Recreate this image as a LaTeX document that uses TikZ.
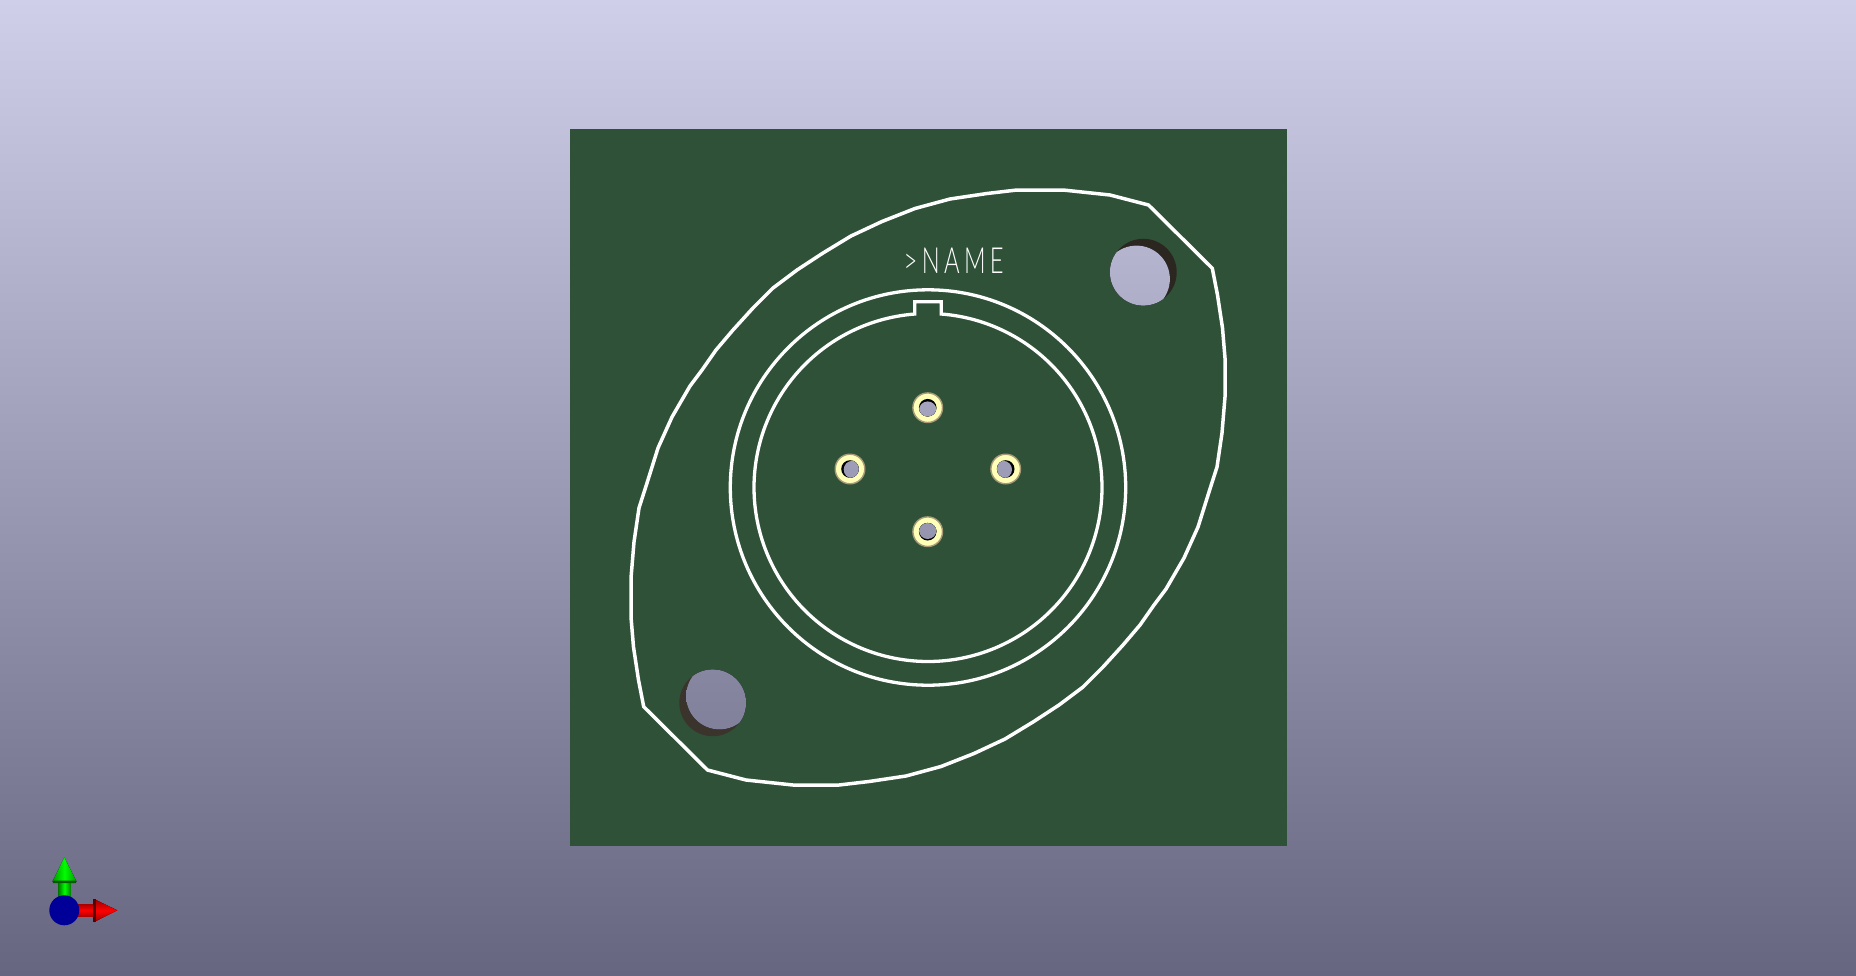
\documentclass[tikz,border=0pt]{standalone}
\usepackage{fontspec}
\newfontfamily\silkfont{Lato Light}[FakeStretch=0.66,LetterSpace=12]
\definecolor{bgtop}{HTML}{CFCFEA}
\definecolor{bgbot}{HTML}{666680}
\definecolor{board}{HTML}{2F5138}
\definecolor{padgold}{HTML}{FFFFB8}
\definecolor{padrim}{HTML}{A89A78}
\definecolor{walltop}{HTML}{2B2620}
\definecolor{wallbot}{HTML}{3A342C}
\tikzset{
  silk/.style={draw=white,line width=3.5pt,line join=miter},
  seethrough/.style={top color=bgtop,bottom color=bgbot},
  padring/.style={fill=padgold,draw=padrim,line width=1.4pt},
}
% near hole centre x,y ; far hole offset dx,dy ; radius r ; wall colour
\newcommand{\holeat}[6]{%
  \fill[#6] (#1,#2) circle[radius=#5];
  \begin{scope}
    \clip (#1,#2) circle[radius=#5];
    \clip ({#1+#3},{#2+#4}) circle[radius=#5];
    \fill[seethrough] (0,0) rectangle (1856,975);
  \end{scope}}
\newcommand{\padat}[4]{%
  \draw[padring] (#1,#2) circle[radius=14.8];
  \holeat{#1}{#2}{#3}{#4}{8.8}{black}}
\begin{document}
\begin{tikzpicture}[x=1pt,y=-1pt]
\useasboundingbox (0,0) rectangle (1856,975);
\fill[seethrough] (0,0) rectangle (1856,975);
% board
\fill[board] (569.5,129) rectangle (1286.7,846);
% mounting holes
\holeat{1143.3}{272.2}{-6.8}{6.8}{33.4}{walltop}
\holeat{712.7}{702.8}{6.8}{-6.8}{33.4}{wallbot}
% outline
\draw[silk] (1148.5,205) -- (1110,195) -- (1063,190) -- (1017,190) -- (987,193.5) -- (950,199) -- (915,208.5) -- (882,221.5) -- (851,236) -- (823,253) -- (797,270) -- (773,288) -- (753,308) -- (733,330) -- (716,350) -- (702,370) -- (690,386) -- (672,417) -- (658,448) -- (647,483) -- (639,508) -- (634,542) -- (631,578) -- (631,617) -- (633.5,647) -- (638.5,680) -- (643.7,706.7)
 -- (707.5,770) -- (746,780) -- (793,785) -- (839,785) -- (869,781.5) -- (906,776) -- (941,766.5) -- (974,753.5) -- (1005,739) -- (1033,722) -- (1059,705) -- (1083,687) -- (1103,667) -- (1123,645) -- (1140,625) -- (1154,605) -- (1166,589) -- (1184,558) -- (1198,527) -- (1209,492) -- (1217,467) -- (1222,433) -- (1225,397) -- (1225,358) -- (1222.5,328) -- (1217.5,295) -- (1212.3,268.3) -- cycle;
% connector body circles
\draw[silk,line width=3.3pt] (928,487.5) circle[radius=197.7];
\draw[silk,line width=3.3pt] plot[domain=274.35:625.65,samples=240] ({928+174*cos(\x)},{487.5+174*sin(\x)}) -- (914.8,301.7) -- (941.2,301.7) -- cycle;
% pads
\padat{927.7}{407.7}{0}{2.5}
\padat{850}{469}{2.5}{0.6}
\padat{1005.7}{469}{-2.5}{0.6}
\padat{927.7}{531.7}{0}{-1.5}
% reference text
\node[text=white,font=\silkfont\fontsize{36}{36}\selectfont,inner sep=0pt] (refname) at (953.7,261.2) {>NAME};
% axis icon
\fill[left color=green!50!black,right color=green!50!black,middle color=green] (58.6,873) rectangle (70.6,910);
\fill[left color=green!60!black,right color=green!60!black,middle color=green] (52.5,881.5) -- (64.3,857.5) -- (76.5,881.5) -- cycle;
\fill[green!35!black] (52.5,880.5) -- (76.5,880.5) -- (76,883) -- (53,883) -- cycle;
\fill[top color=red!70!black,bottom color=red!70!black,middle color=red] (64,904.7) rectangle (95,916);
\fill[top color=red!60!black,bottom color=red!60!black,middle color=red] (94,899) -- (117.3,910.3) -- (94,922) -- cycle;
\fill[red!35!black] (93,899) -- (96,899) -- (96,922) -- (93,922) -- cycle;
\fill[blue!60!black,fill=blue!60!black] (64.3,910.3) circle[radius=15];
\end{tikzpicture}
\end{document}
